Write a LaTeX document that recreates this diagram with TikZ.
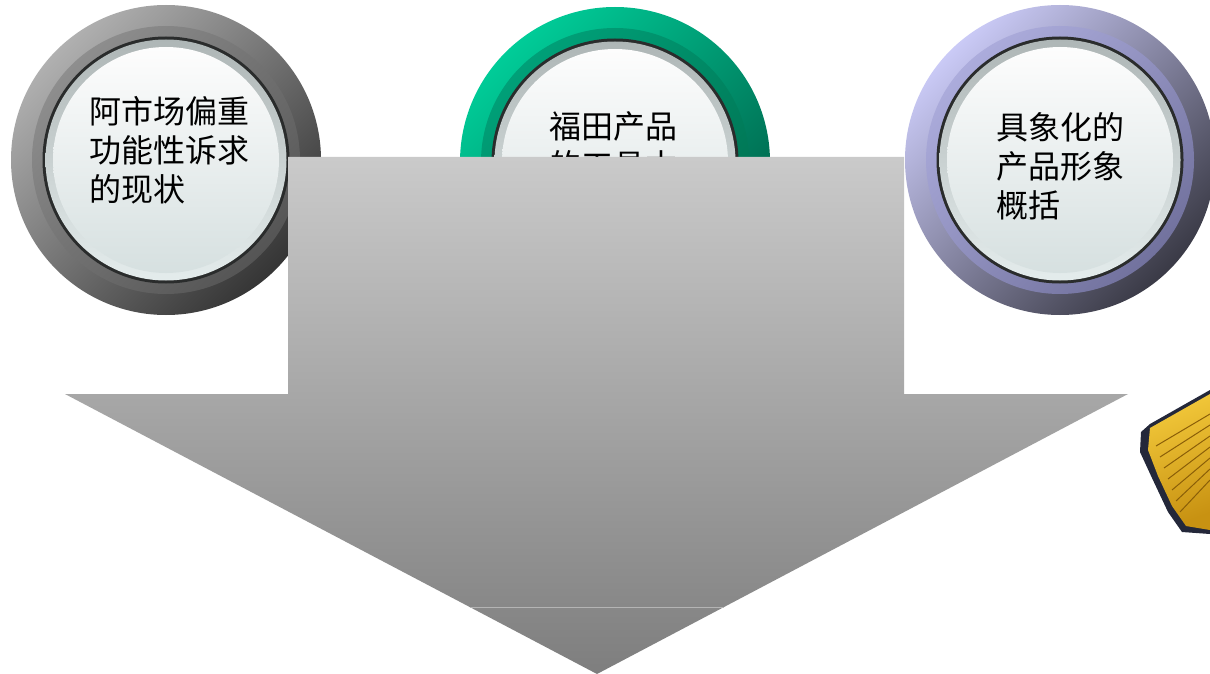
\documentclass[tikz,border=0pt]{standalone}
\usepackage{fontspec}
\newfontfamily\cjk{Noto Sans CJK SC}
\usetikzlibrary{calc}

\definecolor{arrowtop}{HTML}{CACACA}
\definecolor{arrowbot}{HTML}{7E7E7E}
\definecolor{seam}{HTML}{B4B4B4}
\definecolor{edgeblack}{HTML}{2A2C2C}
\definecolor{bevtop}{HTML}{AEB6B6}
\definecolor{bevbot}{HTML}{E4ECEC}
\definecolor{facetop}{HTML}{FDFDFD}
\definecolor{facebot}{HTML}{D6E0E0}
\definecolor{grayA}{HTML}{B0B0B0}
\definecolor{grayB}{HTML}{353535}
\definecolor{grayC}{HTML}{8E8E8E}
\definecolor{grayD}{HTML}{555555}
\definecolor{greenA}{HTML}{00CC98}
\definecolor{greenB}{HTML}{006048}
\definecolor{greenC}{HTML}{00A078}
\definecolor{greenD}{HTML}{007050}
\definecolor{lilacA}{HTML}{CACAF6}
\definecolor{lilacB}{HTML}{3A3A46}
\definecolor{lilacC}{HTML}{ACACDC}
\definecolor{lilacD}{HTML}{72729E}
\definecolor{brushdark}{HTML}{24283A}
\definecolor{brushA}{HTML}{F2C83A}
\definecolor{brushB}{HTML}{C89212}
\definecolor{brushline}{HTML}{8A5E08}

\tikzset{
  knobrim/.style={circle, draw=none, inner sep=0pt, minimum size=310pt},
  knobband/.style={circle, draw=none, inner sep=0pt, minimum size=268pt},
  knobedge/.style={circle, draw=none, inner sep=0pt, minimum size=247pt, fill=edgeblack},
  knobbevel/.style={circle, draw=none, inner sep=0pt, minimum size=241pt,
    top color=bevtop, bottom color=bevbot},
  knobface/.style={circle, draw=none, inner sep=0pt, minimum size=226pt,
    top color=facetop, bottom color=facebot},
  knobtext/.style={anchor=north west, inner sep=0pt, align=left,
    font=\cjk\fontsize{32}{39}\selectfont, text=black},
  bigarrow/.style={draw=none, top color=arrowtop, bottom color=arrowbot},
}

% one round button: name, centre, rim colours, band colours
\newcommand\drawknob[6]{%
  \node[knobrim, top color=#3, bottom color=#4, shading angle=45] (#1-rim) at (#2) {};
  \node[knobband, top color=#5, bottom color=#6, shading angle=45] (#1-band) at (#2) {};
  \node[knobedge] (#1-edge) at (#2) {};
  \node[knobbevel] (#1-bevel) at (#2) {};
  \node[knobface] (#1-face) at (#2) {};
}

\begin{document}
\begin{tikzpicture}[x=1pt, y=-1pt]
  \useasboundingbox (0,0) rectangle (1210,674);
  \fill[white] (0,0) rectangle (1210,674);

  % three buttons
  \drawknob{left}{166,160}{grayA}{grayB}{grayC}{grayD}
  \drawknob{mid}{615,162}{greenA}{greenB}{greenC}{greenD}
  \drawknob{right}{1060,160}{lilacA}{lilacB}{lilacC}{lilacD}

  \node[knobtext] (leftlabel) at (89,96) {阿市场偏重\\功能性诉求\\的现状};
  \node[knobtext] (midlabel) at (549,111) {福田产品\\的工具本};
  \node[knobtext] (rightlabel) at (996,112) {具象化的\\产品形象\\概括};

  % large downward arrow over the buttons
  \coordinate (shaftTL) at (288,157);
  \coordinate (shaftTR) at (904,157);
  \coordinate (shaftBR) at (904,394);
  \coordinate (wingR) at (1128,394);
  \coordinate (tip) at (597,674);
  \coordinate (wingL) at (65,394);
  \coordinate (shaftBL) at (288,394);
  \path[bigarrow] (shaftTL) -- (shaftTR) -- (shaftBR) -- (wingR) -- (tip)
    -- (wingL) -- (shaftBL) -- cycle;
  \coordinate (seamL) at ($(wingL)!0.7607!(tip)$);
  \coordinate (seamR) at ($(wingR)!0.7607!(tip)$);
  \draw[seam, line width=0.8pt] (seamL) -- (seamR);

  % yellow brush at the right edge
  \fill[brushdark] (1141,432) -- (1150,424) -- (1210,390) -- (1210,534)
    -- (1182,532) -- (1168,512) -- (1152,478) -- (1140,452) -- cycle;
  \shade[top color=brushA, bottom color=brushB, shading angle=20]
    (1150,428) -- (1210,394) -- (1210,530) -- (1186,526) -- (1172,506)
    -- (1158,476) -- (1148,450) -- cycle;
  \foreach \k in {0,...,6}{
    \draw[brushline, line width=1pt]
      ($(1156,446)+(\k*4,\k*11)$) -- ($(1210,414)+(0,\k*11)$);
  }
\end{tikzpicture}
\end{document}
